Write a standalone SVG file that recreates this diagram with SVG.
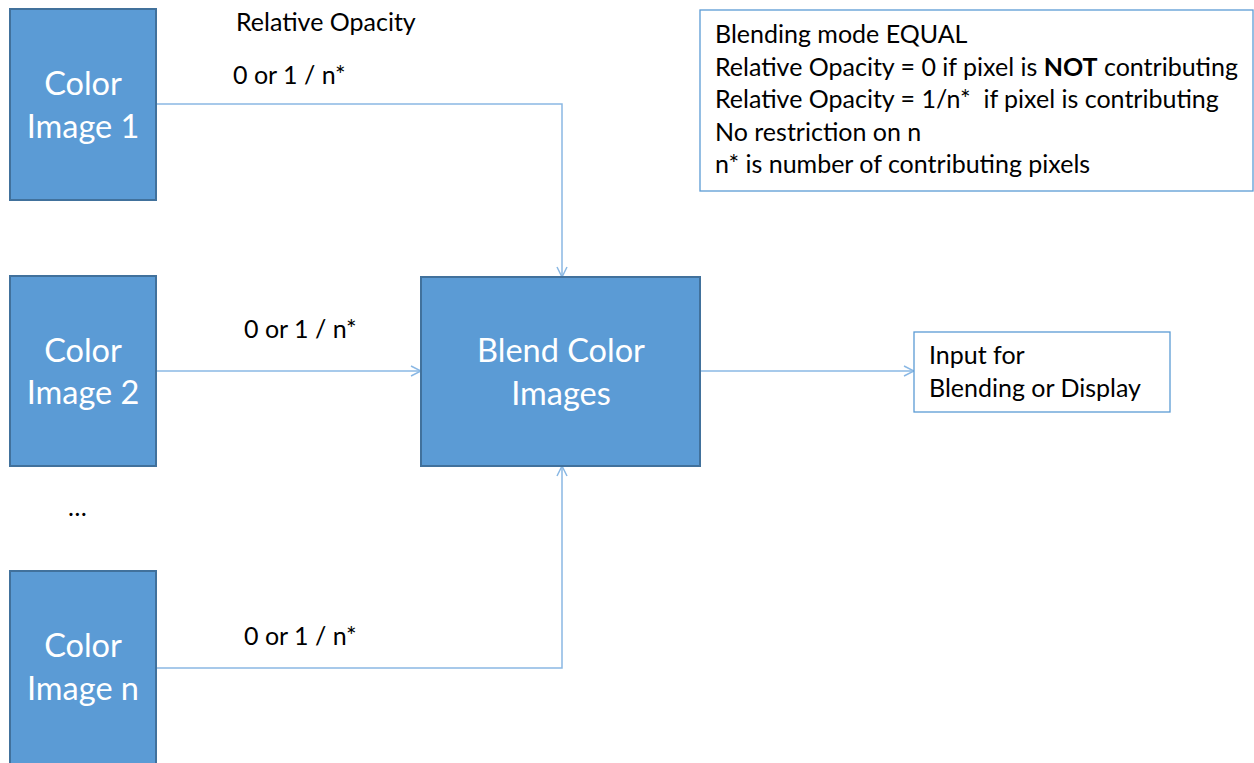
<svg xmlns="http://www.w3.org/2000/svg" width="1254" height="763" viewBox="0 0 1254 763">
  <style>
    .blk { fill: #5B9BD5; stroke: #41719C; stroke-width: 2; }
    .note { fill: #FFFFFF; stroke: #5B9BD5; stroke-width: 1.3; }
    .wt { font-family: Lato, "Open Sans", sans-serif; font-size: 32.5px; fill: #FFFFFF; text-anchor: middle; }
    .bt { font-family: Lato, "Open Sans", sans-serif; font-size: 25px; fill: #000000; }
    .conn { fill: none; stroke: #8AB8E4; stroke-width: 1.5; }
  </style>
  <defs>
    <marker id="arrow" viewBox="0 0 12 12" refX="11" refY="6" markerWidth="12" markerHeight="12" markerUnits="userSpaceOnUse" orient="auto">
      <path d="M1,1 L11,6 L1,11" fill="none" stroke="#8AB8E4" stroke-width="1.5"/>
    </marker>
  </defs>
  <rect width="1254" height="763" fill="#FFFFFF"/>

  <g id="connectors">
    <polyline class="conn" points="156,104 562,104 562,277" marker-end="url(#arrow)"/>
    <line class="conn" x1="156" y1="371" x2="421" y2="371" marker-end="url(#arrow)"/>
    <polyline class="conn" points="156,668 562,668 562,466" marker-end="url(#arrow)"/>
    <line class="conn" x1="700" y1="371" x2="914" y2="371" marker-end="url(#arrow)"/>
  </g>

  <g id="img1">
    <rect class="blk" x="10" y="9" width="146" height="191"/>
    <text class="wt" x="83" y="95">Color</text>
    <text class="wt" x="83" y="138">Image 1</text>
  </g>
  <g id="img2">
    <rect class="blk" x="10" y="276" width="146" height="190"/>
    <text class="wt" x="83" y="362">Color</text>
    <text class="wt" x="83" y="404">Image 2</text>
  </g>
  <g id="ellipsis">
    <text class="bt" x="68" y="516">…</text>
  </g>
  <g id="imgn">
    <rect class="blk" x="10" y="571" width="146" height="195"/>
    <text class="wt" x="83" y="657">Color</text>
    <text class="wt" x="83" y="700">Image n</text>
  </g>
  <g id="blend">
    <rect class="blk" x="421" y="277" width="279" height="189"/>
    <text class="wt" x="561" y="362">Blend Color</text>
    <text class="wt" x="561" y="405">Images</text>
  </g>
  <g id="output">
    <rect class="note" x="914" y="332" width="256" height="80"/>
    <text class="bt" x="929" y="364">Input for</text>
    <text class="bt" x="929" y="397">Blending or Display</text>
  </g>
  <g id="legend">
    <rect class="note" x="700" y="10" width="553" height="181"/>
    <text class="bt" x="715" y="43">Blending mode EQUAL</text>
    <text class="bt" x="715" y="76">Relative Opacity = 0 if pixel is <tspan font-weight="bold">NOT</tspan> contributing</text>
    <text class="bt" x="715" y="108" xml:space="preserve">Relative Opacity = 1/n*  if pixel is contributing</text>
    <text class="bt" x="715" y="141">No restriction on n</text>
    <text class="bt" x="715" y="173">n* is number of contributing pixels</text>
  </g>
  <g id="labels">
    <text class="bt" x="236" y="31">Relative Opacity</text>
    <text class="bt" x="233" y="84">0 or 1 / n*</text>
    <text class="bt" x="244" y="338">0 or 1 / n*</text>
    <text class="bt" x="244" y="645">0 or 1 / n*</text>
  </g>
</svg>
